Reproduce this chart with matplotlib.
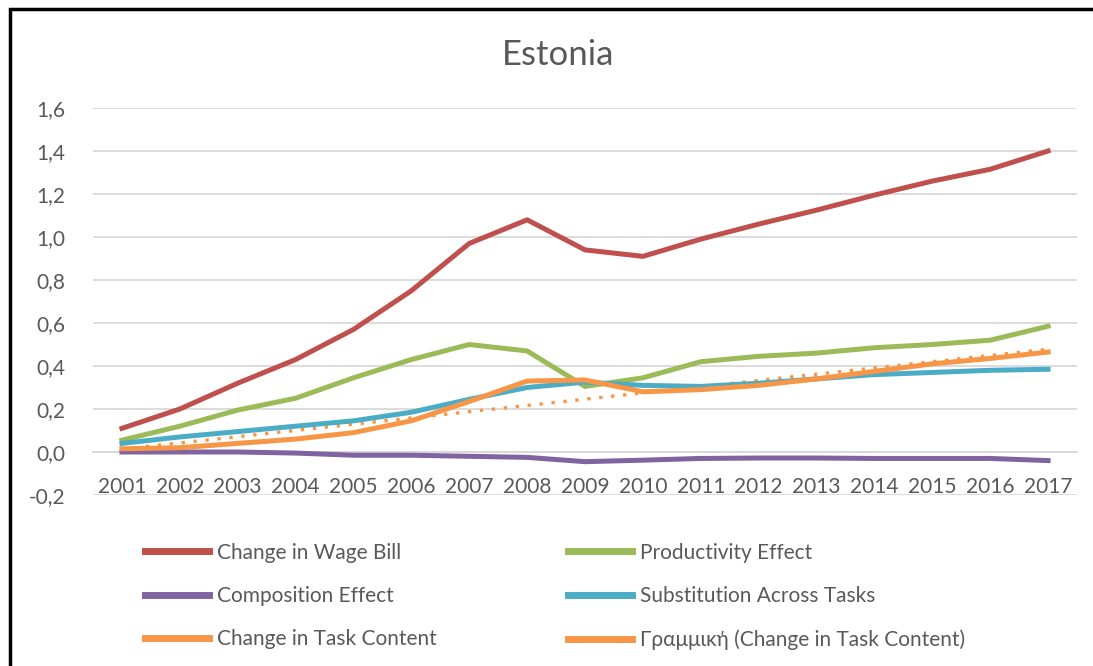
import numpy as np
import matplotlib.pyplot as plt
from matplotlib.patches import Rectangle

years = [str(y) for y in range(2001, 2018)]

wage_bill = [0.11, 0.20, 0.32, 0.43, 0.57, 0.75, 0.97, 1.08, 0.94, 0.91,
             0.99, 1.06, 1.125, 1.195, 1.26, 1.315, 1.40]
productivity = [0.055, 0.12, 0.195, 0.25, 0.345, 0.43, 0.50, 0.47, 0.305, 0.345,
                0.42, 0.445, 0.46, 0.485, 0.50, 0.52, 0.585]
composition = [0.0, 0.0, 0.0, -0.005, -0.015, -0.015, -0.02, -0.025, -0.045, -0.038,
               -0.03, -0.028, -0.028, -0.03, -0.03, -0.03, -0.04]
substitution = [0.04, 0.07, 0.095, 0.12, 0.145, 0.185, 0.245, 0.30, 0.325, 0.31,
                0.305, 0.32, 0.34, 0.36, 0.37, 0.38, 0.385]
task_content = [0.015, 0.02, 0.04, 0.06, 0.09, 0.145, 0.235, 0.33, 0.335, 0.28,
                0.29, 0.31, 0.34, 0.375, 0.41, 0.435, 0.465]

plt.rcParams['font.family'] = ['Lato', 'DejaVu Sans']
txt = '#595959'

fig = plt.figure(figsize=(10.93, 6.66), dpi=100)
ax = fig.add_axes([93 / 1093, 1 - 495 / 666, (1077 - 93) / 1093, (495 - 108) / 666])

x = np.arange(len(years))

# linear trend of the task content series
k, b = np.polyfit(x, task_content, 1)
trend = k * x + b

lw = 3.6
ax.plot(x, trend, color='#F79646', lw=2.4, ls=(0, (1, 2.6)), zorder=2)
l1, = ax.plot(x, wage_bill, color='#C0504D', lw=lw, label='Change in Wage Bill', zorder=3)
l2, = ax.plot(x, productivity, color='#9BBB59', lw=lw, label='Productivity Effect', zorder=3)
l3, = ax.plot(x, composition, color='#8064A2', lw=lw, label='Composition Effect', zorder=3)
l4, = ax.plot(x, substitution, color='#4BACC6', lw=lw, label='Substitution Across Tasks', zorder=3)
l5, = ax.plot(x, task_content, color='#F79646', lw=lw, label='Change in Task Content', zorder=4)
l6, = ax.plot([], [], color='#F79646', lw=2.4, label='Γραμμική (Change in Task Content)')

ax.set_xlim(-0.5, len(years) - 0.5)
ax.set_ylim(-0.2, 1.6)
ax.set_yticks(np.arange(-0.2, 1.61, 0.2))
ax.set_yticklabels([f'{v:.1f}'.replace('.', ',') for v in np.arange(-0.2, 1.61, 0.2)])
ax.set_xticks(x)
ax.set_xticklabels(years)
ax.grid(axis='y', color='#D9D9D9', lw=1.3)
ax.set_axisbelow(True)
for s in ['top', 'right', 'left']:
    ax.spines[s].set_visible(False)
ax.spines['bottom'].set_position(('data', 0))
ax.spines['bottom'].set_color('#D9D9D9')
ax.spines['bottom'].set_linewidth(1.3)
ax.tick_params(axis='x', length=0, pad=18, labelsize=15, colors=txt)
ax.tick_params(axis='y', length=0, pad=20, labelsize=15, colors=txt)

fig.text(0.511, 1 - 55 / 666, 'Estonia', ha='center', va='center', fontsize=25, color=txt)

leg = fig.legend([l1, l3, l5, l2, l4, l6],
                 [h.get_label() for h in [l1, l3, l5, l2, l4, l6]],
                 ncol=2, loc='upper left', bbox_to_anchor=(126 / 1093, 1 - 524 / 666),
                 frameon=False, fontsize=15, handlelength=3.1, handletextpad=0.35,
                 labelspacing=1.12, columnspacing=6.3, labelcolor=txt)
for h in leg.legend_handles:
    h.set_linewidth(5)

# chart frame
fig.add_artist(Rectangle((10 / 1093, -0.1), 1.2, 1 - 9 / 666 + 0.1, transform=fig.transFigure,
                         fill=False, edgecolor='black', lw=2.5))

fig.savefig('out.png', dpi=100)
